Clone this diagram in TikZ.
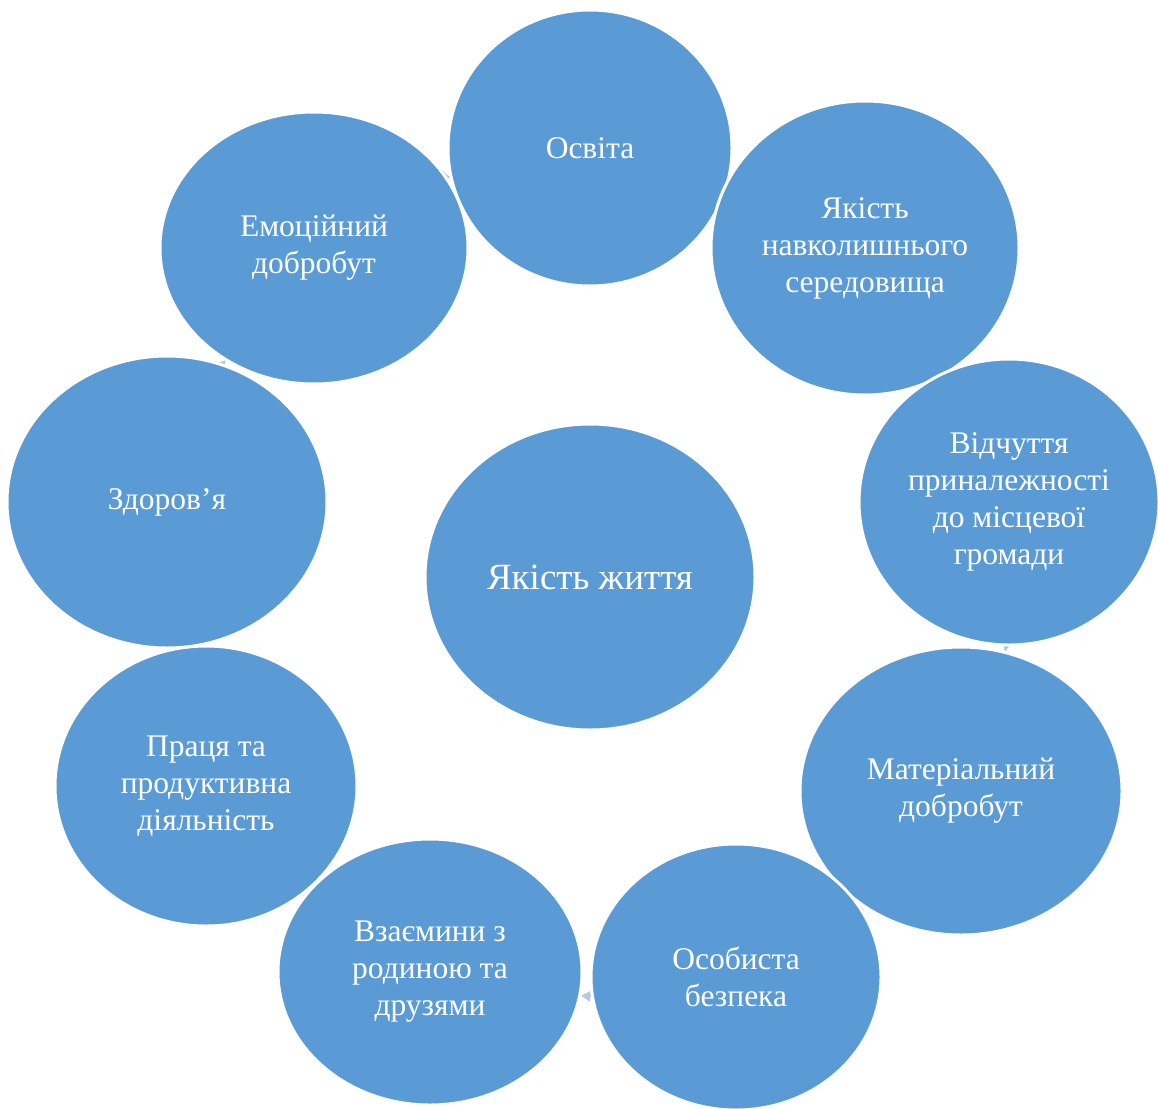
\documentclass[tikz,border=0pt]{standalone}
\usepackage{fontspec}
\setmainfont{Liberation Serif}
\usetikzlibrary{shapes.geometric,backgrounds,arrows.meta}
\definecolor{petal}{HTML}{5B9BD5}
\definecolor{ringblue}{HTML}{B4C7E7}
\tikzset{
  petal/.style={ellipse, fill=petal, draw=white, line width=3pt, inner sep=0pt,
    text=white, align=center, font=\fontsize{31.5}{37}\selectfont},
  link/.style={ringblue, line width=3pt, -{Triangle[length=9pt,width=10pt]}, bend left=8}
}
\begin{document}
\begin{tikzpicture}[x=1pt,y=-1pt]
  \useasboundingbox (0,0) rectangle (1158,1108);

  \node[petal, minimum width=330pt, minimum height=306pt,
    font=\fontsize{37}{44}\selectfont] (life) at (590,577) {Якість життя};

  \node[petal, minimum width=284pt, minimum height=276pt] (edu) at (590,148) {Освіта};
  \node[petal, minimum width=308pt, minimum height=294pt] (env) at (865,248) {Якість\\навколишнього\\середовища};
  \node[petal, minimum width=300pt, minimum height=286pt] (belong) at (1009,502) {Відчуття\\приналежності\\до місцевої\\громади};
  \node[petal, minimum width=322pt, minimum height=288pt] (wealth) at (961,791) {Матеріальний\\добробут};
  \node[petal, minimum width=290pt, minimum height=266pt] (safety) at (736,977) {Особиста\\безпека};
  \node[petal, minimum width=304pt, minimum height=266pt] (family) at (430,972) {Взаємини з\\родиною та\\друзями};
  \node[petal, minimum width=302pt, minimum height=280pt] (work) at (206,786) {Праця та\\продуктивна\\діяльність};
  \node[petal, minimum width=320pt, minimum height=292pt] (health) at (167,502) {Здоров’я};
  \node[petal, minimum width=308pt, minimum height=272pt] (emotion) at (314,248) {Емоційний\\добробут};

  % ring of arrows behind the circles
  \begin{pgfonlayer}{background}
    \draw[link] (edu) to (env);
    \draw[link] (env) to (belong);
    \draw[link] (belong) to (wealth);
    \draw[link] (wealth) to (safety);
    \draw[link] (safety) to (family);
    \draw[link] (family) to (work);
    \draw[link] (work) to (health);
    \draw[link] (health) to (emotion);
    \draw[link] (emotion) to (edu);
  \end{pgfonlayer}
\end{tikzpicture}
\end{document}
